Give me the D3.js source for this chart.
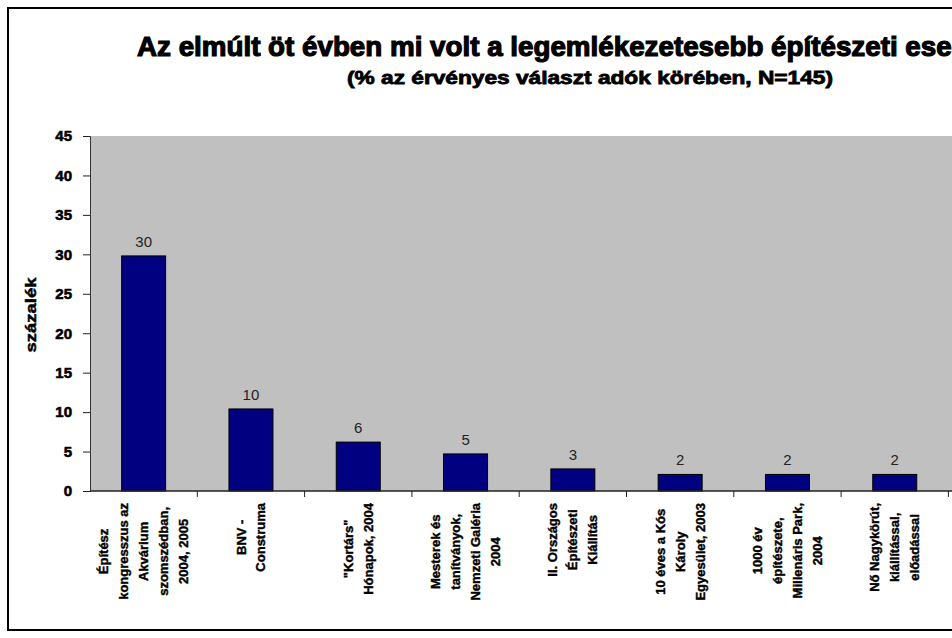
<!DOCTYPE html>
<html>
<head>
  <meta charset="utf-8">
  <title>Építészeti események</title>
  <script src="https://d3js.org/d3.v7.min.js"></script>
  <style>
    body { margin: 0; background: #fff; }
    text { font-family: "Liberation Sans", Arial, sans-serif; }
  </style>
</head>
<body>
  <svg id="chart" width="952" height="638"></svg>

  <script>
    // adatok
    const categories = [
      ["Építész", "kongresszus az", "Akvárium", "szomszédban,", "2004, 2005"],
      ["BNV -", "Construma"],
      ["\"Kortárs\"", "Hónapok, 2004"],
      ["Mesterek és", "tanítványok,", "Nemzeti Galéria", "2004"],
      ["II. Országos", "Építészeti", "Kiállítás"],
      ["10 éves a Kós", "Károly", "Egyesület, 2003"],
      ["1000 év", "építészete,", "Millenáris Park,", "2004"],
      ["Nő Nagykörút,", "kiállítással,", "előadással"]
    ];
    const values = [29.8, 10.4, 6.2, 4.7, 2.8, 2.1, 2.1, 2.1];
    const yTicks = [0, 5, 10, 15, 20, 25, 30, 35, 40, 45];

    const title = "Az elmúlt öt évben mi volt a legemlékezetesebb építészeti esemény?";
    const subtitle = "(% az érvényes választ adók körében, N=145)";
    const yLabel = "százalék";

    const width = 952, height = 638;
    const plot = { left: 90, top: 136, bottom: 491, right: 952 };

    const svg = d3.select("#chart");

    // külső keret (a jobb széle kilóg a képből)
    svg.append("rect")
      .attr("x", 8).attr("y", 8)
      .attr("width", 1100).attr("height", 622)
      .attr("fill", "#fff")
      .attr("stroke", "#000")
      .attr("stroke-width", 2);

    const y = d3.scaleLinear().domain([0, 45]).range([plot.bottom, plot.top]);
    const x = d3.scaleBand()
      .domain(d3.range(categories.length))
      .range([plot.left, plot.left + 107.3 * categories.length])
      .padding(0);

    // szürke háttér
    svg.append("rect")
      .attr("x", plot.left).attr("y", plot.top)
      .attr("width", plot.right - plot.left)
      .attr("height", plot.bottom - plot.top)
      .attr("fill", "#c0c0c0");

    // oszlopok
    const barW = x.bandwidth() * 0.41;
    svg.selectAll(".bar")
      .data(values)
      .enter().append("rect")
      .attr("class", "bar")
      .attr("x", (d, i) => x(i) + (x.bandwidth() - barW) / 2)
      .attr("y", d => y(d))
      .attr("width", barW)
      .attr("height", d => y(0) - y(d))
      .attr("fill", "#000080")
      .attr("stroke", "#000")
      .attr("stroke-width", 1);

    const fmt = d3.format(".0f");
    svg.selectAll(".val")
      .data(values)
      .enter().append("text")
      .attr("class", "val")
      .attr("x", (d, i) => x(i) + x.bandwidth() / 2)
      .attr("y", d => y(d) - 9)
      .attr("text-anchor", "middle")
      .style("font-size", "15px")
      .style("fill", "#222")
      .text(d => fmt(d));

    // y tengely
    const yAxis = svg.append("g")
      .attr("transform", `translate(${plot.left},0)`)
      .call(d3.axisLeft(y).tickValues(yTicks).tickSize(7).tickPadding(11));
    yAxis.select(".domain").attr("stroke", "#333");
    yAxis.selectAll(".tick line").attr("stroke", "#222");
    yAxis.selectAll(".tick text")
      .style("font-size", "15px")
      .style("font-weight", "bold")
      .attr("fill", "#000")
      .attr("stroke", "#000")
      .attr("stroke-width", 0.6);

    // x tengely vonal + osztások a kategóriák között
    svg.append("line")
      .attr("x1", plot.left).attr("x2", plot.right)
      .attr("y1", plot.bottom).attr("y2", plot.bottom)
      .attr("stroke", "#222").attr("stroke-width", 1.5);
    svg.selectAll(".xtick")
      .data(d3.range(1, categories.length + 1))
      .enter().append("line")
      .attr("x1", i => x.range()[0] + x.step() * i)
      .attr("x2", i => x.range()[0] + x.step() * i)
      .attr("y1", plot.bottom).attr("y2", plot.bottom + 6)
      .attr("stroke", "#222");

    // kategória feliratok, 90 fokban forgatva
    const lab = svg.selectAll(".xlab")
      .data(categories)
      .enter().append("g")
      .attr("class", "xlab")
      .attr("transform", (d, i) => `translate(${x(i) + x.bandwidth() / 2},503) rotate(-90)`);

    lab.each(function (lines) {
      const g = d3.select(this);
      const n = lines.length;
      const ts = lines.map((t, k) => g.append("text")
        .attr("y", (k - (n - 1) / 2) * 20)
        .attr("dy", "0.35em")
        .attr("text-anchor", "middle")
        .style("font-size", "13px")
        .style("font-weight", "bold")
        .attr("stroke", "#000")
        .attr("stroke-width", 0.4)
        .text(t));
      const maxLen = d3.max(ts, t => t.node().getComputedTextLength());
      ts.forEach(t => t.attr("x", -maxLen / 2));
    });

    // y tengely címe
    svg.append("text")
      .attr("transform", `translate(36,315) rotate(-90)`)
      .attr("text-anchor", "middle")
      .attr("textLength", 75)
      .attr("lengthAdjust", "spacingAndGlyphs")
      .style("font-size", "15px")
      .style("font-weight", "bold")
      .attr("stroke", "#000")
      .attr("stroke-width", 0.5)
      .text(yLabel);

    // cím (a képen jobbra le van vágva, mint az eredetin)
    const t = svg.append("text")
      .attr("y", 56)
      .style("font-size", "28px")
      .style("font-weight", "bold")
      .attr("stroke", "#000")
      .attr("stroke-width", 1.2)
      .text(title);
    const visW = t.node().getSubStringLength(0, 61);
    const sx = (952 - 137) / visW;
    t.attr("transform", `translate(137,0) scale(${sx},1)`);

    svg.append("text")
      .attr("x", 347)
      .attr("y", 84)
      .attr("textLength", 486)
      .attr("lengthAdjust", "spacingAndGlyphs")
      .style("font-size", "18px")
      .style("font-weight", "bold")
      .attr("stroke", "#000")
      .attr("stroke-width", 0.8)
      .text(subtitle);
  </script>
</body>
</html>
